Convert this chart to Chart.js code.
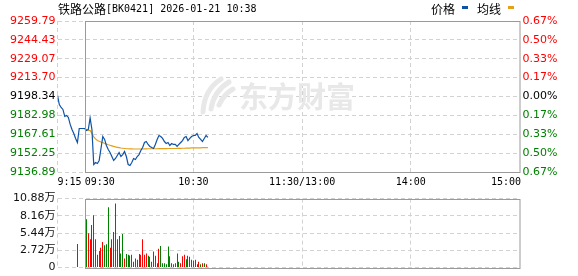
<!DOCTYPE html>
<html>
<head>
<meta charset="utf-8">
<script src="https://cdn.jsdelivr.net/npm/chart.js@4.4.1/dist/chart.umd.min.js"></script>
<style>
html, body { margin: 0; padding: 0; background: #fff; }
#wrap { position: relative; width: 578px; height: 276px; overflow: hidden; }
#priceChart { position: absolute; left: 0; top: 0; }
#volChart { position: absolute; left: 0; top: 190px; }
</style>
</head>
<body>
<div id="wrap">
  <canvas id="priceChart" width="578" height="190"></canvas>
  <canvas id="volChart" width="578" height="86"></canvas>
</div>
<script>
// minute index 0 = 9:15, 15 = 9:30, 75 = 10:30, 135 = 11:30/13:00, 195 = 14:00, 255 = 15:00
const price = [
  9199.2, 9191.8, 9189.4, 9187.8, 9182.1, 9182.9, 9181.3, 9175.6, 9171.5, 9168.2, 9164.2, 9160.9,
  9172.3, 9172.3, 9172.3, 9172.3,
  9170.7, 9171.5, 9181.0, 9171.5, 9143.0, 9144.6, 9143.8, 9146.3, 9156.0, 9165.8,
  9163.4, 9158.5, 9155.2, 9152.8, 9149.5, 9146.3, 9147.9, 9150.3, 9152.8, 9149.5,
  9151.1, 9153.6, 9149.5, 9143.0, 9142.2, 9144.6, 9147.9, 9147.1, 9149.5, 9151.1,
  9154.4, 9156.8, 9160.9, 9161.7, 9159.3, 9157.7, 9156.8, 9156.0, 9159.3, 9163.4,
  9166.6, 9165.8, 9164.2, 9161.7, 9160.1, 9160.9, 9158.5, 9160.1, 9159.3, 9159.3,
  9157.7, 9159.3, 9160.9, 9162.5, 9165.0, 9165.8, 9162.5, 9164.2, 9165.8, 9166.6,
  9166.6, 9168.2, 9165.0, 9163.4, 9161.7, 9164.2, 9166.6, 9165.0
];
const avgPrice = [
  null, null, null, null, null, null, null, null, null, null, null, null, null, null, null,
  9172.3, 9171.5, 9170.7, 9170.7, 9168.2, 9165.4, 9163.8, 9162.5, 9161.9, 9161.3,
  9160.9, 9160.1, 9159.6, 9159.1, 9158.7, 9158.2, 9157.7, 9157.3, 9157.0, 9156.7,
  9156.4, 9156.2, 9156.0, 9155.8, 9155.8, 9155.7, 9155.7, 9155.6, 9155.6, 9155.6,
  9155.6, 9155.6, 9155.6, 9155.7, 9155.7, 9155.8, 9155.8, 9155.8, 9155.8, 9155.8,
  9155.8, 9155.9, 9155.9, 9155.9, 9155.9, 9155.9, 9156.0, 9156.0, 9156.0, 9156.0,
  9156.0, 9156.1, 9156.1, 9156.1, 9156.2, 9156.2, 9156.3, 9156.3, 9156.4, 9156.5,
  9156.5, 9156.6, 9156.6, 9156.6, 9156.6, 9156.7, 9156.7, 9156.7, 9156.7
];
// volume in 万
const volume = [
  null, null, null, null, null, null, null, null, null, null, null, 3.7, null, null, null, null,
  7.6, 5.4, 4.45, 6.7, 8.25, 4.45, 2.0, 2.6, 3.1, 4.0,
  3.5, 3.65, 9.5, 3.1, 4.45, 5.6, 10.1, 4.45, 4.95, 2.2,
  5.3, 1.4, 2.1, 2.0, 1.9, 2.0, 0.9, 1.4, 1.2, 2.1,
  2.0, 4.45, 2.0, 2.2, 1.85, 1.67, 0.9, 2.5, 1.85, 0.65,
  2.93, 3.4, 0.65, 0.65, 0.5, 3.3, 1.77, 0.65, 0.5, 0.65,
  2.2, 0.9, 0.65, 1.77, 2.0, 1.3, 1.85, 1.7, 1.2, 1.1,
  1.2, 0.5, 0.9, 0.5, 0.65, 0.65, 0.5, 0.1
];
// 1 = up minute (red), 0 = down minute (green)
const volRise = [
  null, null, null, null, null, null, null, null, null, null, null, 0, null, null, null, null,
  0, 1, 1, 0, 0, 1, 0, 1, 1, 1,
  0, 0, 0, 1, 0, 0, 0, 1, 1, 0,
  0, 1, 0, 0, 1, 1, 1, 0, 1, 0,
  1, 1, 1, 1, 0, 0, 0, 1, 1, 0,
  1, 0, 0, 0, 0, 0, 1, 0, 0, 1,
  0, 0, 1, 1, 1, 0, 1, 1, 1, 1,
  0, 0, 1, 0, 1, 0, 1, 0
];

const priceTicks = [9136.89, 9152.25, 9167.61, 9182.98, 9198.34, 9213.70, 9229.07, 9244.43, 9259.79];
const priceTickLabels = ['9136.89', '9152.25', '9167.61', '9182.98', '9198.34', '9213.70', '9229.07', '9244.43', '9259.79'];
const pctTickLabels = ['0.67%', '0.50%', '0.33%', '0.17%', '0.00%', '0.17%', '0.33%', '0.50%', '0.67%'];
const volTicks = [0, 2.72, 5.44, 8.16, 10.88];
const volTickLabels = ['0', '2.72万', '5.44万', '8.16万', '10.88万'];
const timeMinutes = [0, 15, 75, 135, 195, 255];
const timeLabels = ['9:15', '09:30', '10:30', '11:30/13:00', '14:00', '15:00'];
const gridMinutes = [0, 75, 135, 195];
const openMinute = 15;
const title = ['铁路公路', '[BK0421] 2026-01-21 10:38'];

const RED = '#ff0000', GREEN = '#008000', BLUE = '#0d53a6', ORANGE = '#e3a018';
const GRID = '#d2d2d2', FRAME = '#9a9a9a';
const NUM_FONT = 'DejaVu Sans, Noto Sans CJK SC';
const MONO = 'DejaVu Sans Mono';
const CJK = 'Noto Sans CJK SC';

function sideColor(i) {
  return i < 4 ? GREEN : (i === 4 ? '#000' : RED);
}

// solid frame from 9:30 to 15:00
const framePlugin = {
  id: 'frame',
  afterDatasetsDraw(chart) {
    const { ctx, chartArea } = chart;
    const x0 = Math.round(chart.scales.x.getPixelForValue(openMinute)) + 0.5;
    ctx.save();
    ctx.strokeStyle = FRAME;
    ctx.lineWidth = 1;
    ctx.strokeRect(x0, Math.round(chartArea.top) + 0.5, Math.round(chartArea.right) - x0, Math.round(chartArea.bottom - chartArea.top));
    ctx.restore();
  }
};

// keep 1px volume bars on whole pixels so they stay crisp
const snapPlugin = {
  id: 'snap',
  beforeDatasetsDraw(chart) {
    chart.getDatasetMeta(0).data.forEach(bar => { bar.x = Math.floor(bar.x) + 0.5; });
  }
};

const watermarkPlugin = {
  id: 'watermark',
  beforeDatasetsDraw(chart) {
    const ctx = chart.ctx;
    ctx.save();
    ctx.strokeStyle = '#e8e8e8';
    ctx.lineCap = 'round';
    ctx.lineWidth = 5;
    ctx.beginPath();
    ctx.moveTo(203, 112); ctx.quadraticCurveTo(204, 90, 221, 79);
    ctx.moveTo(211, 109); ctx.quadraticCurveTo(214, 91, 229, 82);
    ctx.moveTo(219, 105); ctx.quadraticCurveTo(224, 94, 233, 89);
    ctx.stroke();
    ctx.fillStyle = '#e8e8e8';
    ctx.font = 'bold 29px ' + CJK;
    ctx.textBaseline = 'middle';
    ctx.fillText('东方财富', 239, 97);
    ctx.restore();
  }
};

const textPlugin = {
  id: 'texts',
  afterDraw(chart) {
    const ctx = chart.ctx;
    const xs = chart.scales.x;
    ctx.save();
    ctx.fillStyle = '#000';
    ctx.textBaseline = 'middle';
    ctx.font = '12px ' + CJK;
    ctx.fillText(title[0], 58, 9);
    ctx.font = '10px ' + MONO;
    ctx.fillText(title[1], 106, 9);

    // legend
    ctx.font = '12px ' + CJK;
    ctx.fillText('价格', 431, 9.5);
    ctx.fillText('均线', 477, 9.5);
    ctx.fillStyle = BLUE;
    ctx.fillRect(462, 6, 6, 3);
    ctx.fillStyle = ORANGE;
    ctx.fillRect(508, 6, 6, 3);

    // time axis
    ctx.fillStyle = '#000';
    ctx.font = '10px ' + MONO;
    timeMinutes.forEach((m, i) => {
      ctx.textAlign = i < 2 ? 'left' : (i === timeMinutes.length - 1 ? 'right' : 'center');
      const x = xs.getPixelForValue(m) + (i === timeMinutes.length - 1 ? 1.5 : 0);
      ctx.fillText(timeLabels[i], x, 182);
    });
    ctx.restore();
  }
};

const xAxis = {
  type: 'linear', min: 0, max: 255, offset: false,
  afterBuildTicks: s => { s.ticks = gridMinutes.map(v => ({ value: v })); },
  afterFit: s => { s.height = 0; },
  grid: { color: GRID, drawTicks: false, offset: false },
  border: { display: false, dash: [4, 3] },
  ticks: { display: false }
};

new Chart('priceChart', {
  type: 'line',
  data: {
    datasets: [
      { data: price.map((v, i) => ({ x: i, y: v })), borderColor: BLUE, borderWidth: 1.2, pointRadius: 0, tension: 0 },
      { data: avgPrice.map((v, i) => ({ x: i, y: v })), borderColor: ORANGE, borderWidth: 1.2, pointRadius: 0, tension: 0, spanGaps: false }
    ]
  },
  options: {
    responsive: false, animation: false, devicePixelRatio: 1,
    layout: { padding: { top: 21, bottom: 18, left: 0, right: 0 } },
    plugins: { legend: { display: false }, tooltip: { enabled: false } },
    scales: {
      x: xAxis,
      y: {
        position: 'left', min: priceTicks[0], max: priceTicks[priceTicks.length - 1],
        afterBuildTicks: s => { s.ticks = priceTicks.map(v => ({ value: v })); },
        afterFit: s => { s.width = 57.5; },
        grid: { color: GRID, drawTicks: false },
        border: { display: false, dash: [4, 3] },
        ticks: {
          autoSkip: false, padding: 2, font: { family: NUM_FONT, size: 11 },
          color: c => sideColor(c.index),
          callback: (v, i) => priceTickLabels[i]
        }
      },
      yPct: {
        position: 'right', min: priceTicks[0], max: priceTicks[priceTicks.length - 1],
        afterBuildTicks: s => { s.ticks = priceTicks.map(v => ({ value: v })); },
        afterFit: s => { s.width = 58.5; },
        grid: { display: false, drawTicks: false },
        border: { display: false },
        ticks: {
          autoSkip: false, padding: 3, font: { family: NUM_FONT, size: 11 },
          color: c => sideColor(c.index),
          callback: (v, i) => pctTickLabels[i]
        }
      }
    }
  },
  plugins: [watermarkPlugin, framePlugin, textPlugin]
});

const volPoints = [];
const volColors = [];
volume.forEach((v, i) => {
  if (v === null) return;
  volPoints.push({ x: i, y: v });
  volColors.push(volRise[i] ? RED : GREEN);
});

new Chart('volChart', {
  type: 'bar',
  data: {
    datasets: [{ data: volPoints, backgroundColor: volColors, barThickness: 1, borderWidth: 0, inflateAmount: 0 }]
  },
  options: {
    responsive: false, animation: false, devicePixelRatio: 1,
    layout: { padding: { top: 6.5, bottom: 7.5, left: 0, right: 58.5 } },
    plugins: { legend: { display: false }, tooltip: { enabled: false } },
    scales: {
      x: Object.assign({}, xAxis),
      y: {
        position: 'left', min: 0, max: volTicks[volTicks.length - 1],
        afterBuildTicks: s => { s.ticks = volTicks.map(v => ({ value: v })); },
        afterFit: s => { s.width = 57.5; },
        grid: { color: GRID, drawTicks: false },
        border: { display: false, dash: [4, 3] },
        ticks: {
          autoSkip: false, padding: 2, font: { family: NUM_FONT, size: 11 }, color: '#111',
          callback: (v, i) => volTickLabels[i]
        }
      }
    }
  },
  plugins: [snapPlugin, framePlugin]
});
</script>
</body>
</html>
